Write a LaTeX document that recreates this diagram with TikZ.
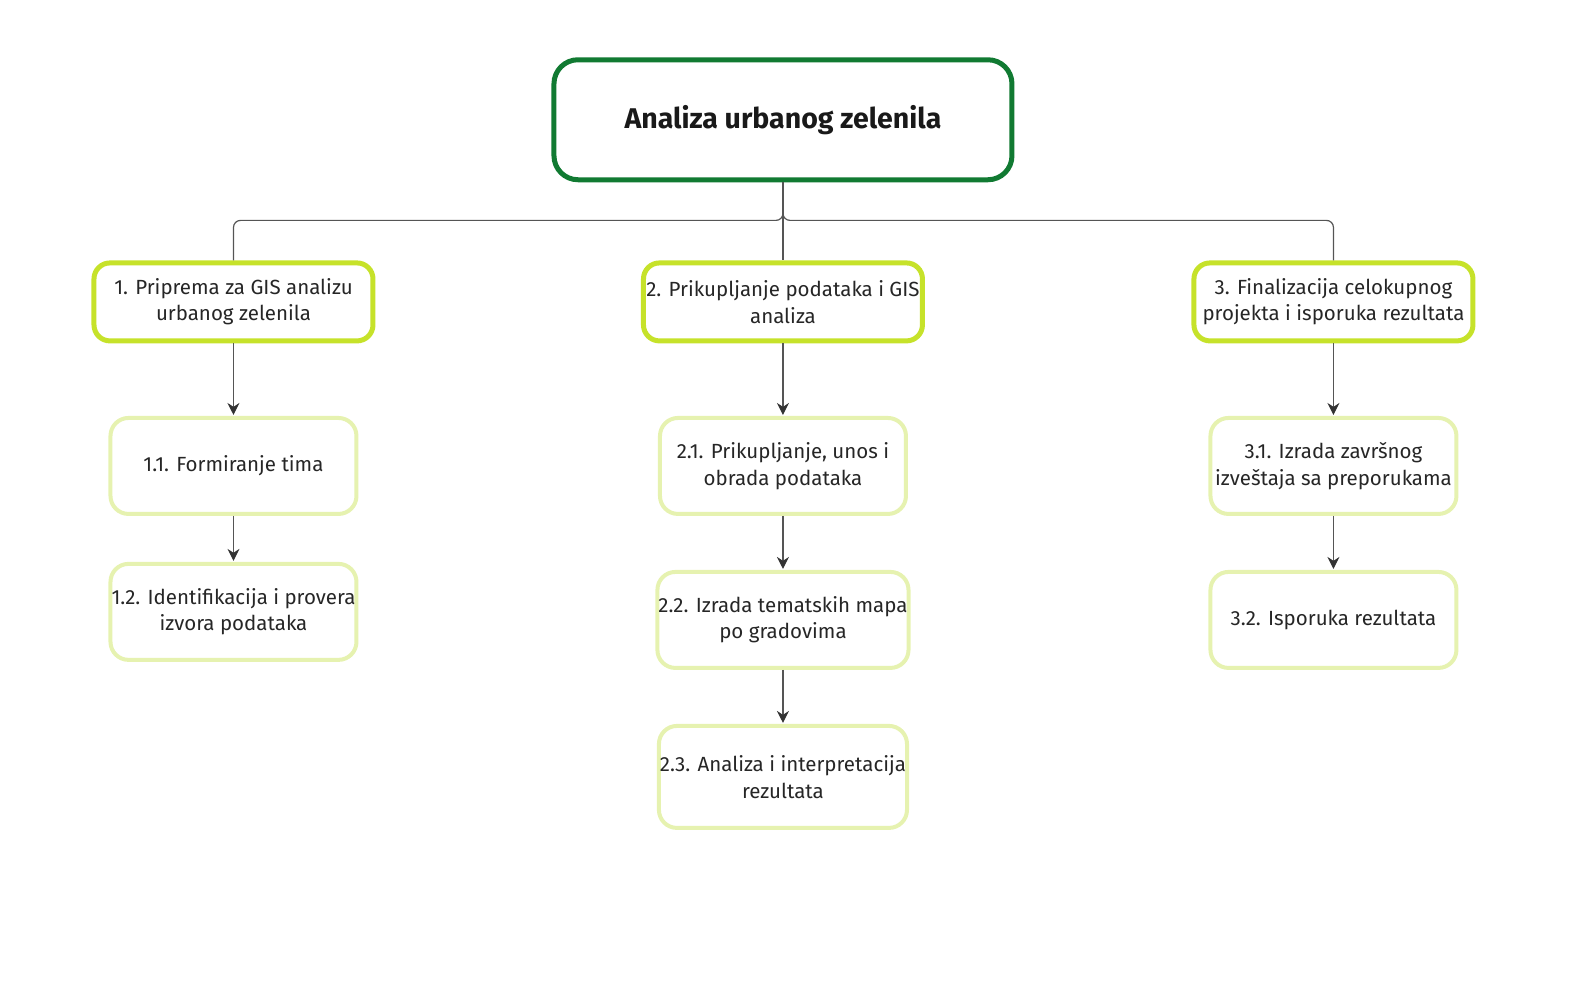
\documentclass[tikz,border=0pt]{standalone}
\usepackage{fontspec}
\setmainfont{Fira Sans}
\usetikzlibrary{arrows.meta,positioning,calc}

\definecolor{rootgreen}{RGB}{17,122,50}
\definecolor{lime}{RGB}{198,226,42}
\definecolor{palelime}{RGB}{230,242,176}
\definecolor{linegray}{RGB}{85,85,85}

\tikzset{
  rootbox/.style={draw=rootgreen, line width=5pt, rounded corners=24pt, fill=white,
    minimum width=458pt, minimum height=120pt, align=center,
    font=\fontsize{28.5}{32}\selectfont\bfseries, text=black!90},
  phasebox/.style={draw=lime, line width=5pt, rounded corners=16pt, fill=white,
    minimum width=279pt, minimum height=78pt, align=center, inner sep=1pt,
    font=\fontsize{20.5}{26.5}\selectfont, text=black!85},
  taskbox/.style={draw=palelime, line width=4pt, rounded corners=18pt, fill=white,
    minimum width=246pt, minimum height=96pt, align=center, inner sep=1pt,
    font=\fontsize{20.5}{26.5}\selectfont, text=black!85},
  link/.style={draw=linegray, line width=1.2pt},
  arr/.style={link, -{Stealth[length=12pt,width=12pt,color=black!80]}, shorten >=1pt}
}

\begin{document}
\begin{tikzpicture}[x=1.0064pt, y=-1.0064pt, >=Stealth]
        \useasboundingbox (0,0) rectangle (1568,984);
        \node[rootbox] (root) at (778,119) {Analiza urbanog zelenila};
        \node[phasebox] (p1) at (232,300) {1. Priprema za GIS analizu\\urbanog zelenila};
        \node[phasebox] (p2) at (778,300) {2. Prikupljanje podataka i GIS\\analiza};
        \node[phasebox] (p3) at (1325,300) {3. Finalizacija celokupnog\\projekta i isporuka rezultata};
        \node[taskbox] (t11) at (232,463) {1.1. Formiranje tima};
        \node[taskbox] (t12) at (232,608) {1.2. Identifikacija i provera\\izvora podataka};
        \node[taskbox] (t21) at (778,463) {2.1. Prikupljanje, unos i\\obrada podataka};
        \node[taskbox] (t22) at (778,616) {2.2. Izrada tematskih mapa\\po gradovima};
        \node[taskbox, minimum height=102pt] (t23) at (778,772) {2.3. Analiza i interpretacija\\rezultata};
        \node[taskbox] (t31) at (1325,463) {3.1. Izrada završnog\\izveštaja sa preporukama};
        \node[taskbox] (t32) at (1325,616) {3.2. Isporuka rezultata};

        % tree from the root
        \coordinate (fork) at (778,219);
        \draw[link, rounded corners=7pt] (root.south) -- (fork) -| (p1.north);
        \draw[link, rounded corners=7pt] (root.south) -- (fork) -| (p3.north);
        \draw[link] (root.south) -- (p2.north);

        % arrows down each column
        \draw[arr] (p1) -- (t11);
        \draw[arr] (t11) -- (t12);
        \draw[arr] (p2) -- (t21);
        \draw[arr] (t21) -- (t22);
        \draw[arr] (t22) -- (t23);
        \draw[arr] (p3) -- (t31);
        \draw[arr] (t31) -- (t32);
      \end{tikzpicture}
\end{document}
